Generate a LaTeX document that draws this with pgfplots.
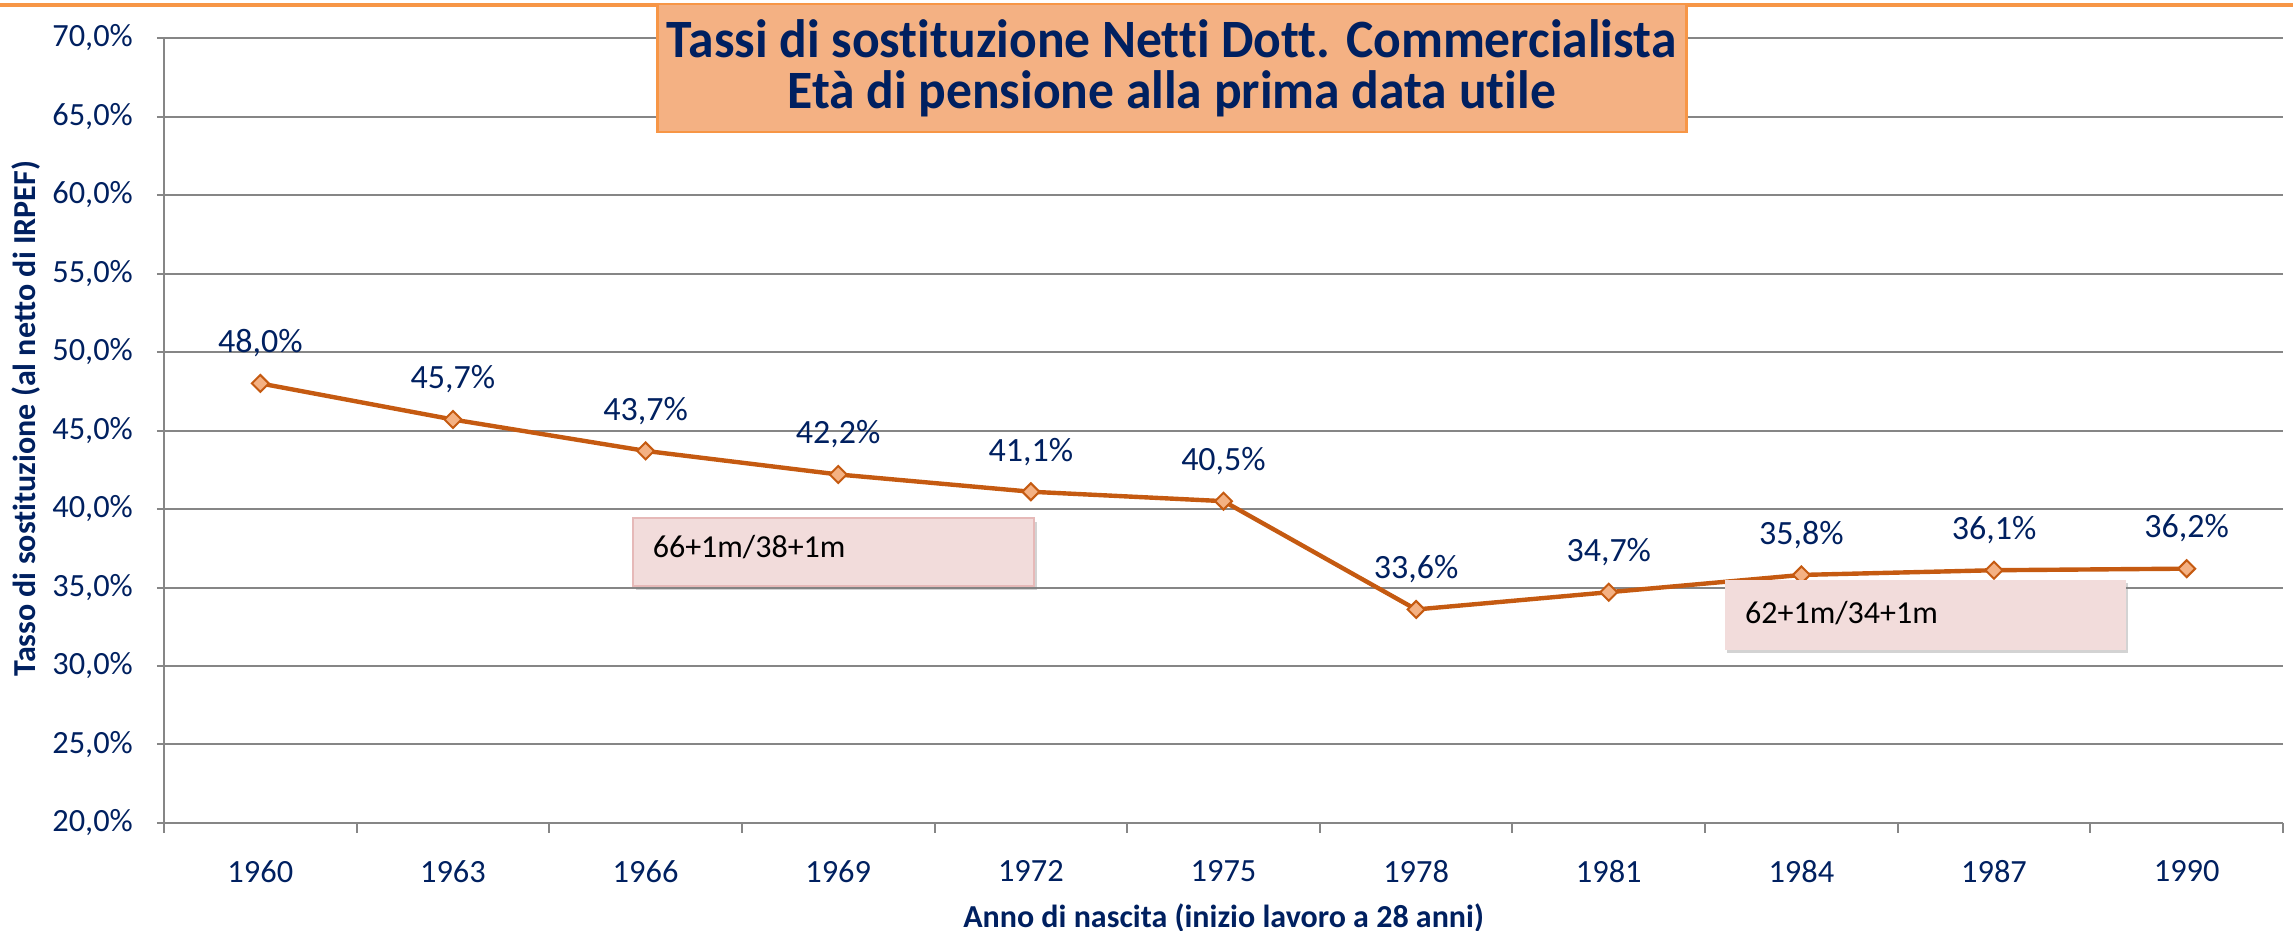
\documentclass[border=0pt]{standalone}
\usepackage{fontspec}
\setmainfont{Carlito}[Ligatures=NoCommon]
\usepackage{pgfplots}
\pgfplotsset{compat=1.18}
\usetikzlibrary{shadows}
\definecolor{navy}{RGB}{0,32,96}
\definecolor{lineor}{RGB}{197,90,17}
\definecolor{markfill}{RGB}{244,177,131}
\definecolor{gridgray}{RGB}{134,134,134}
\definecolor{titlefill}{RGB}{244,177,131}
\definecolor{titleborder}{RGB}{247,150,70}
\definecolor{boxfill}{RGB}{242,220,219}
\definecolor{boxborder}{RGB}{230,185,184}
\begin{document}
\begin{tikzpicture}
\path[use as bounding box] (-41pt,-27pt) rectangle (532.75pt,205.75pt);
\begin{axis}[
  scale only axis, width=529.75pt, height=196.25pt,
  xmin=-0.5, xmax=10.5, ymin=20, ymax=70,
  xtick={0,...,10},
  xticklabels={1960,1963,1966,1969,1972,1975,1978,1981,1984,1987,1990},
  minor xtick={-0.5,0.5,...,10.5},
  ytick={20,25,...,70},
  /pgf/number format/assume math mode=true,
  yticklabel={\pgfmathprintnumber[fixed,fixed zerofill,precision=1,use comma]{\tick}\%},
  axis x line*=bottom, axis y line*=left,
  axis line style={color=gridgray, line width=0.5pt},
  tick align=outside,
  major tick length=1.75pt, minor tick length=2.5pt,
  major x tick style={draw=none},
  minor x tick style={color=gridgray, line width=0.5pt},
  y tick style={color=gridgray, line width=0.5pt},
  ymajorgrids, major grid style={color=gridgray, line width=0.5pt},
  tick label style={font=\fontsize{8.1}{9.7}\selectfont, text=navy},
  xticklabel style={yshift=-4pt},
  yticklabel style={xshift=-2.5pt},
  xlabel={Anno di nascita (inizio lavoro a 28 anni)},
  ylabel={Tasso di sostituzione (al netto di IRPEF)},
  every axis x label/.style={at={(axis description cs:0.5,-0.121)}, anchor=center, font=\bfseries\fontsize{8}{9.6}\selectfont, text=navy},
  every axis y label/.style={at={(axis description cs:-0.0651,0.515)}, rotate=90, anchor=center, font=\bfseries\fontsize{8}{9.6}\selectfont, text=navy},
  clip=false,
]
\addplot[color=lineor, line width=1.1pt, mark=square*, mark size=1.5pt,
  mark options={rotate=45, fill=markfill, draw=lineor, line width=0.5pt},
  nodes near coords={\pgfmathprintnumber[fixed,fixed zerofill,precision=1,use comma]{\pgfplotspointmeta}\%},
  every node near coord/.append style={font=\fontsize{8.5}{10}\selectfont, text=navy, anchor=south, yshift=3pt}]
coordinates {(0,48.0)(1,45.7)(2,43.7)(3,42.2)(4,41.1)(5,40.5)(6,33.6)(7,34.7)(8,35.8)(9,36.1)(10,36.2)};
\end{axis}
\draw[titleborder, line width=1pt] (-41pt,204.5pt) -- (532.25pt,204.5pt);
\node[fill=titlefill, draw=titleborder, line width=0.7pt, minimum width=257.25pt, minimum height=32pt, inner sep=0pt] at (251.9pt,188.75pt) {};
\node[inner sep=0pt, text=navy, yshift=-0.8pt] at (251.9pt,188.75pt) {\scalebox{0.955}[1]{\begin{tabular}{@{}c@{}}\bfseries\fontsize{13.5}{13.75}\selectfont Tassi di sostituzione Netti Dott. Commercialista\\[-0.2pt]\bfseries\fontsize{13.5}{13.75}\selectfont Età di pensione alla prima data utile\end{tabular}}};
\node[fill=boxfill, draw=boxborder, line width=0.6pt, minimum width=100.25pt, minimum height=17pt, inner sep=0pt, anchor=north west, drop shadow={shadow xshift=0.6pt, shadow yshift=-0.9pt, opacity=0.35}] at (117pt,76.5pt) {};
\node[anchor=west, inner sep=0pt, font=\fontsize{8}{9.6}\selectfont] at (122pt,69pt) {66+1m/38+1m};
\node[fill=boxfill, draw=none, minimum width=100.25pt, minimum height=17.5pt, inner sep=0pt, anchor=north west, drop shadow={shadow xshift=0.6pt, shadow yshift=-0.9pt, opacity=0.35}] at (390pt,61pt) {};
\node[anchor=west, inner sep=0pt, font=\fontsize{8}{9.6}\selectfont] at (395.1pt,52.5pt) {62+1m/34+1m};
\end{tikzpicture}
\end{document}
